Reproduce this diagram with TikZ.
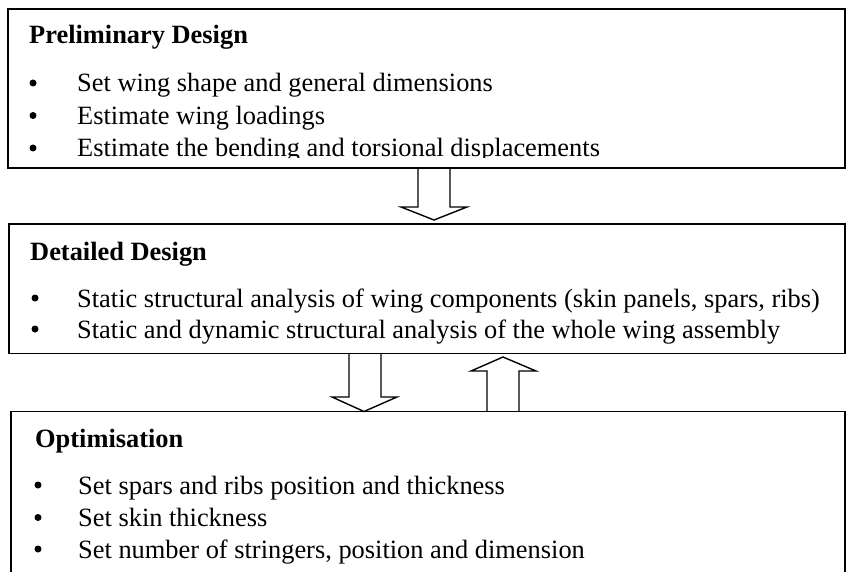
\documentclass[tikz,border=0pt]{standalone}
\usepackage{fontspec}
\setmainfont{Liberation Serif}
\tikzset{
  box/.style={draw, line width=1.5pt, rectangle, anchor=north west, inner sep=0pt, outer sep=0pt},
  blk/.style={draw, line width=1.4pt, line join=miter},
  head/.style={anchor=base west, inner sep=0pt, font=\fontsize{26.4}{32}\selectfont\bfseries},
  item/.style={anchor=base west, inner sep=0pt, font=\fontsize{26.4}{32}\selectfont},
  bul/.style={circle, fill=black, inner sep=0pt, minimum size=7pt},
}
\begin{document}
\begin{tikzpicture}[x=1pt,y=-1pt]
\useasboundingbox (0,0) rectangle (846,572);
\clip (0,0) rectangle (846,572);
% boxes
\node[box, minimum width=837pt, minimum height=159pt] (pd) at (8,9) {};
\node[box, minimum width=836pt, minimum height=129.5pt] (dd) at (9,224) {};
\node[box, minimum width=834pt, minimum height=180pt] (op) at (11,411.5) {};
% box 1 text
\node[head] (pdh) at (29,44) {Preliminary Design};
\node[bul] (pdb1) at (33,83) {};
\node[item] (pdt1) at (77,92) {Set wing shape and general dimensions};
\node[bul] (pdb2) at (33,115.5) {};
\node[item] (pdt2) at (77,124.5) {Estimate wing loadings};
\begin{scope}
\clip (0,0) rectangle (846,157.8);
\node[bul] (pdb3) at (33,148) {};
\node[item] (pdt3) at (77,157) {Estimate the bending and torsional displacements};
\end{scope}
% box 2 text
\node[head] (ddh) at (30,260) {Detailed Design};
\node[bul] (ddb1) at (35,298) {};
\node[item] (ddt1) at (77,307) {Static structural analysis of wing components (skin panels, spars, ribs)};
\node[bul] (ddb2) at (35,329) {};
\node[item] (ddt2) at (77,338) {Static and dynamic structural analysis of the whole wing assembly};
% box 3 text
\node[head] (oph) at (35,447) {Optimisation};
\node[bul] (opb1) at (38,485) {};
\node[item] (opt1) at (78,494) {Set spars and ribs position and thickness};
\node[bul] (opb2) at (38,517.5) {};
\node[item] (opt2) at (78,526.5) {Set skin thickness};
\node[bul] (opb3) at (38,549) {};
\node[item] (opt3) at (78,558) {Set number of stringers, position and dimension};
% block arrows
\draw[blk] (pd.south -| 418,0) -- (418,207) -- (401,207) -- (434,220) -- (467,207) -- (450,207) -- (pd.south -| 450,0);
\draw[blk] (dd.south -| 349,0) -- (349,397) -- (332,397) -- (op.north -| 364,0) -- (397,397) -- (381,397) -- (dd.south -| 381,0);
\draw[blk] (op.north -| 487,0) -- (487,371) -- (471,371) -- (503,357) -- (536,371) -- (519,371) -- (op.north -| 519,0);
\end{tikzpicture}
\end{document}
